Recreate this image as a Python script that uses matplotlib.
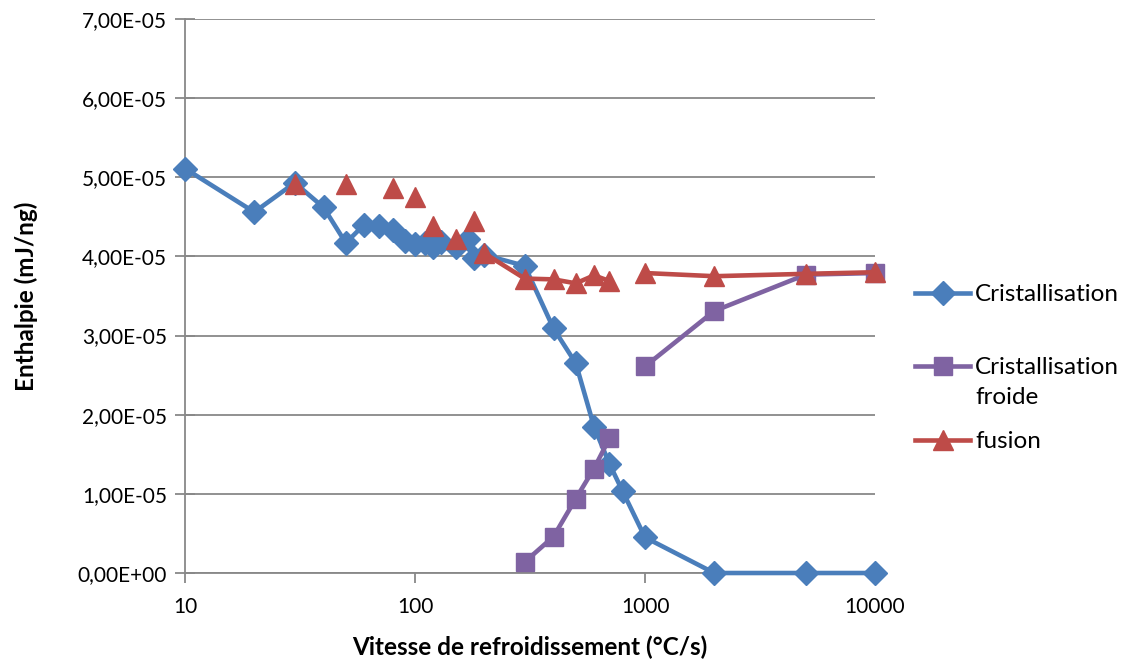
import numpy as np
import matplotlib.pyplot as plt
from matplotlib.lines import Line2D
from matplotlib.ticker import FuncFormatter, FixedLocator, NullLocator

plt.rcParams['font.family'] = ['Lato', 'DejaVu Sans']

nan = np.nan

# cristallisation (enthalpie en 1e-5 mJ/ng)
crist_x = [10, 20, 30, 40, 50, 60, 70, 80, 90, 100, 110, 120, 130, 150,
           170, 180, 200, 300, 400, 500, 600, 700, 800, 1000, 2000, 5000, 10000]
crist_y = [5.11, 4.56, 4.93, 4.62, 4.17, 4.40, 4.39, 4.33, 4.19, 4.16, 4.17,
           4.12, 4.18, 4.12, 4.22, 3.98, 4.02, 3.88, 3.09, 2.65, 1.85, 1.38,
           1.03, 0.45, 0.0, 0.0, 0.0]

# cristallisation froide (trou a 800)
froide_x = [300, 400, 500, 600, 700, 800, 1000, 2000, 5000, 10000]
froide_y = [0.14, 0.46, 0.94, 1.32, 1.70, nan, 2.61, 3.31, 3.77, 3.79]

# fusion (valeurs manquantes -> ligne interrompue)
fusion_x = [30, 40, 50, 70, 80, 90, 100, 110, 120, 130, 150, 170, 180, 190,
            200, 300, 400, 500, 600, 700, 800, 1000, 2000, 5000, 10000]
fusion_y = [4.92, nan, 4.91, nan, 4.86, nan, 4.75, nan, 4.38, nan, 4.22, nan,
            4.45, nan, 4.04, 3.72, 3.71, 3.66, 3.76, 3.69, nan, 3.79, 3.75,
            3.78, 3.80]

y_ticks = [0, 1, 2, 3, 4, 5, 6, 7]
x_ticks = [10, 100, 1000, 10000]

blue = '#4A7EBB'
purple = '#7F63A2'
red = '#BE4B48'
grid = '#888888'

scale = 1e-5
series = [
    (crist_x, crist_y, 'Cristallisation', dict(color=blue, marker='D', ms=12.5)),
    (froide_x, froide_y, 'Cristallisation\nfroide', dict(color=purple, marker='s', ms=13)),
    (fusion_x, fusion_y, 'fusion', dict(color=red, marker='^', ms=14)),
]

fig = plt.figure(figsize=(11.27, 6.68), dpi=100)
ax = fig.add_axes([0.1642, 0.1422, 0.6122, 0.8294])

for i, (xs, ys, label, style) in enumerate(series):
    ax.plot(xs, np.array(ys) * scale, lw=3.3, label=label, clip_on=False,
            zorder=3 + i, **style)

ax.set_xscale('log')
ax.set_xlim(10, 10000)
ax.set_ylim(0, 7e-5)
ax.xaxis.set_major_locator(FixedLocator(x_ticks))
ax.xaxis.set_minor_locator(NullLocator())
ax.xaxis.set_major_formatter(FuncFormatter(lambda v, p: '%d' % round(v)))
ax.yaxis.set_major_locator(FixedLocator([t * scale for t in y_ticks]))
ax.yaxis.set_major_formatter(
    FuncFormatter(lambda v, p: ('%.2E' % v).replace('.', ',')))

ax.grid(axis='y', color=grid, lw=1.3)
ax.set_axisbelow(True)
for side in ['top', 'right']:
    ax.spines[side].set_visible(False)
for side in ['left', 'bottom']:
    ax.spines[side].set_color(grid)
    ax.spines[side].set_linewidth(1.3)
ax.tick_params(axis='y', direction='inout', length=14, width=1.3, color=grid,
               labelsize=15, pad=6)
ax.tick_params(axis='x', direction='out', length=7, width=1.3, color=grid,
               labelsize=15, pad=10)

ax.set_xlabel('Vitesse de refroidissement (°C/s)', fontsize=17.5,
              fontweight='bold')
ax.set_ylabel('Enthalpie (mJ/ng)', fontsize=17.5, fontweight='bold')
ax.xaxis.set_label_coords(0.5, -0.112)
ax.yaxis.set_label_coords(-0.213, 0.5)

# legende a droite, dessinee a la main pour garder l'espacement d'Excel
W, H = fig.get_size_inches() * fig.dpi
legend_rows = [293, 366, 440]
for (xs, ys, label, style), yp in zip(series, legend_rows):
    yf = 1 - yp / H
    fig.add_artist(Line2D([915 / W, 970 / W], [yf, yf], color=style['color'],
                          lw=3.3, transform=fig.transFigure))
    fig.add_artist(Line2D([942.5 / W], [yf], linestyle='none',
                          transform=fig.transFigure, **style))
    fig.text(975 / W, yf + 9 / H, label, fontsize=17.5, va='top', ha='left',
             linespacing=1.55)

fig.savefig('out.png', dpi=100)
